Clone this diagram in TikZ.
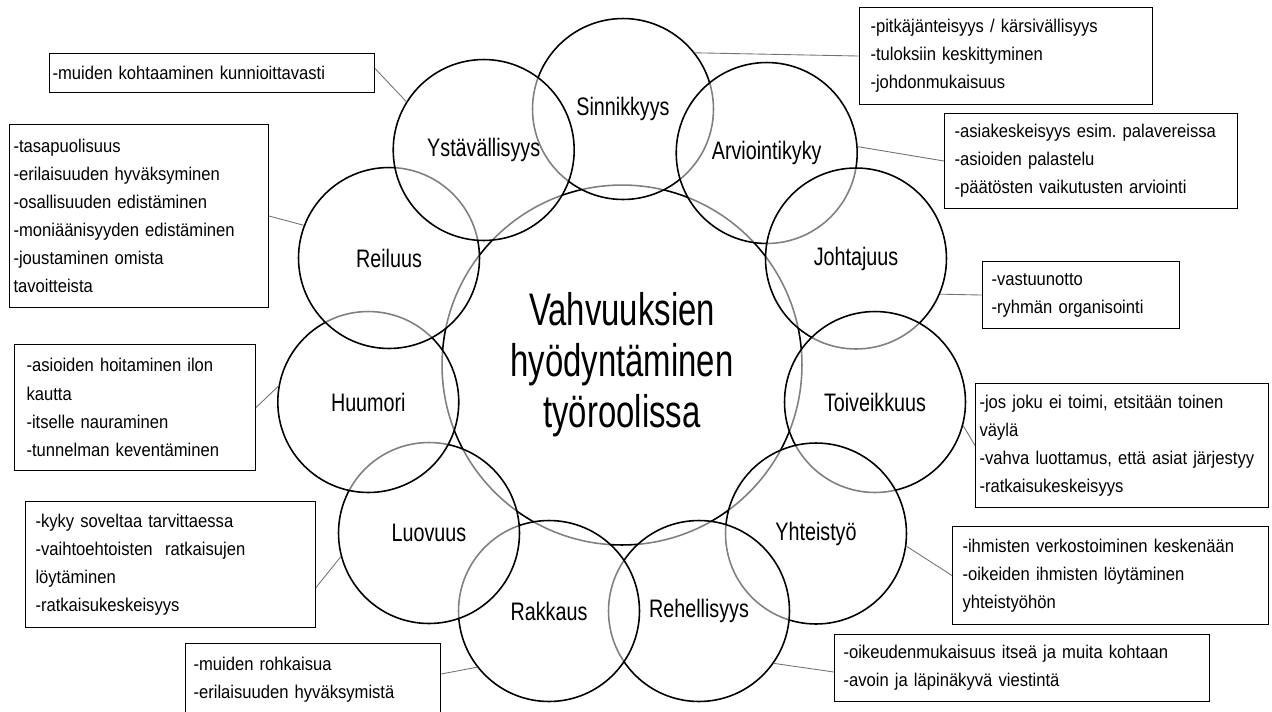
\documentclass[tikz,border=0pt]{standalone}
\usepackage{fontspec}
\setmainfont{Liberation Sans}
\newfontfamily\notefont[FakeStretch=0.9]{Liberation Sans}
\newfontfamily\traitfont[FakeStretch=0.78]{Liberation Sans}
\newfontfamily\corefont[FakeStretch=0.72]{Liberation Sans}
\frenchspacing
\tikzset{
  trait/.style={circle,draw,line width=0.9pt,minimum size=3.62cm,inner sep=0pt,
    fill=white,fill opacity=0.5,text opacity=1,
    font=\traitfont\fontsize{14.4}{17}\selectfont},
  note/.style={draw,line width=0.6pt,anchor=north west,align=left,inner ysep=0pt,
    font=\notefont\fontsize{10.5}{16}\selectfont},
  link/.style={draw=black!55,line width=0.5pt}
}
\begin{document}
\begin{tikzpicture}[x=0.02cm,y=-0.02cm]
                \useasboundingbox (0,0) rectangle (1272,711);
                % centre
                \node[circle,draw,line width=0.9pt,minimum size=7.2cm,align=center,
                  font=\corefont\fontsize{26}{29}\selectfont] (C) at (622,365)
                  {Vahvuuksien\\hyödyntäminen\\työroolissa};
                % ring, drawn in this order so that each one greys the one before
                \node[trait] (Sin) at (623,109) {Sinnikkyys};
                \node[trait] (Arv) at (766.7,153) {Arviointikyky};
                \node[trait] (Joh) at (856,258.5) {Johtajuus};
                \node[trait] (Toi) at (875,402) {Toiveikkuus};
                \node[trait] (Yht) at (816,533.5) {Yhteistyö};
                \node[trait] (Reh) at (699,611) {Rehellisyys};
                \node[trait] (Rak) at (549,611) {Rakkaus};
                \node[trait] (Luo) at (429,533) {Luovuus};
                \node[trait] (Huu) at (368.3,402) {Huumori};
                \node[trait] (Rei) at (389,258) {Reiluus};
                \node[trait] (Yst) at (483.7,150) {Ystävällisyys};
                % boxes
                \node[note,minimum height=1.94cm,text width=5.42cm,inner xsep=0.22cm] (bSin) at (859,7)
                  {-pitkäjänteisyys / kärsivällisyys\\-tuloksiin keskittyminen\\-johdonmukaisuus};
                \node[note,minimum height=1.9cm,text width=5.46cm,inner xsep=0.2cm] (bArv) at (944,113)
                  {-asiakeskeisyys esim. palavereissa\\-asioiden palastelu\\-päätösten vaikutusten arviointi};
                \node[note,minimum height=1.34cm,text width=3.58cm,inner xsep=0.18cm] (bJoh) at (982,261)
                  {-vastuunotto\\-ryhmän organisointi};
                \node[note,minimum height=2.48cm,text width=5.7cm,inner xsep=0.08cm] (bToi) at (975,383)
                  {-jos joku ei toimi, etsitään toinen\\väylä\\-vahva luottamus, että asiat järjestyy\\-ratkaisukeskeisyys};
                \node[note,minimum height=1.96cm,text width=5.92cm,inner xsep=0.2cm] (bYht) at (952,526)
                  {-ihmisten verkostoiminen keskenään\\-oikeiden ihmisten löytäminen\\yhteistyöhön};
                \node[note,minimum height=1.34cm,text width=7.14cm,inner xsep=0.18cm] (bReh) at (834,634)
                  {-oikeudenmukaisuus itseä ja muita kohtaan\\-avoin ja läpinäkyvä viestintä};
                \node[note,minimum height=1.46cm,text width=4.78cm,inner xsep=0.16cm] (bRak) at (185,643)
                  {-muiden rohkaisua\\-erilaisuuden hyväksymistä};
                \node[note,minimum height=2.52cm,text width=5.4cm,inner xsep=0.2cm] (bLuo) at (25,501)
                  {-kyky soveltaa tarvittaessa\\-vaihtoehtoisten\ \ ratkaisujen\\löytäminen\\-ratkaisukeskeisyys};
                \node[note,minimum height=2.52cm,text width=4.34cm,inner xsep=0.24cm] (bHuu) at (14,344)
                  {-asioiden hoitaminen ilon\\kautta\\-itselle nauraminen\\-tunnelman keventäminen};
                \node[note,minimum height=3.66cm,text width=5.02cm,inner xsep=0.08cm] (bRei) at (9,124)
                  {-tasapuolisuus\\-erilaisuuden hyväksyminen\\-osallisuuden edistäminen\\-moniäänisyyden edistäminen\\-joustaminen omista\\tavoitteista};
                \node[note,minimum height=0.78cm,text width=6.38cm,inner xsep=0.06cm] (bYst) at (49,53)
                  {-muiden kohtaaminen kunnioittavasti};
                % leaders
                \draw[link] (bSin.west) -- (Sin.38);
                \draw[link] (bArv.west) -- (Arv.4);
                \draw[link] (bJoh.west) -- (Joh.337);
                \draw[link] (bToi.west) -- (Toi.345);
                \draw[link] (bYht.west) -- (Yht.352);
                \draw[link] ([yshift=-0.08cm]bReh.west) -- (Reh.325);
                \draw[link] ([yshift=0.12cm]bRak.east) -- (Rak.218);
                \draw[link] ([yshift=-0.46cm]bLuo.east) -- (Luo.195);
                \draw[link] (bHuu.east) -- (Huu.170);
                \draw[link] (bRei.east) -- (Rei.159);
                \draw[link] ([yshift=0.09cm]bYst.east) -- (Yst.148);
            \end{tikzpicture}
\end{document}
